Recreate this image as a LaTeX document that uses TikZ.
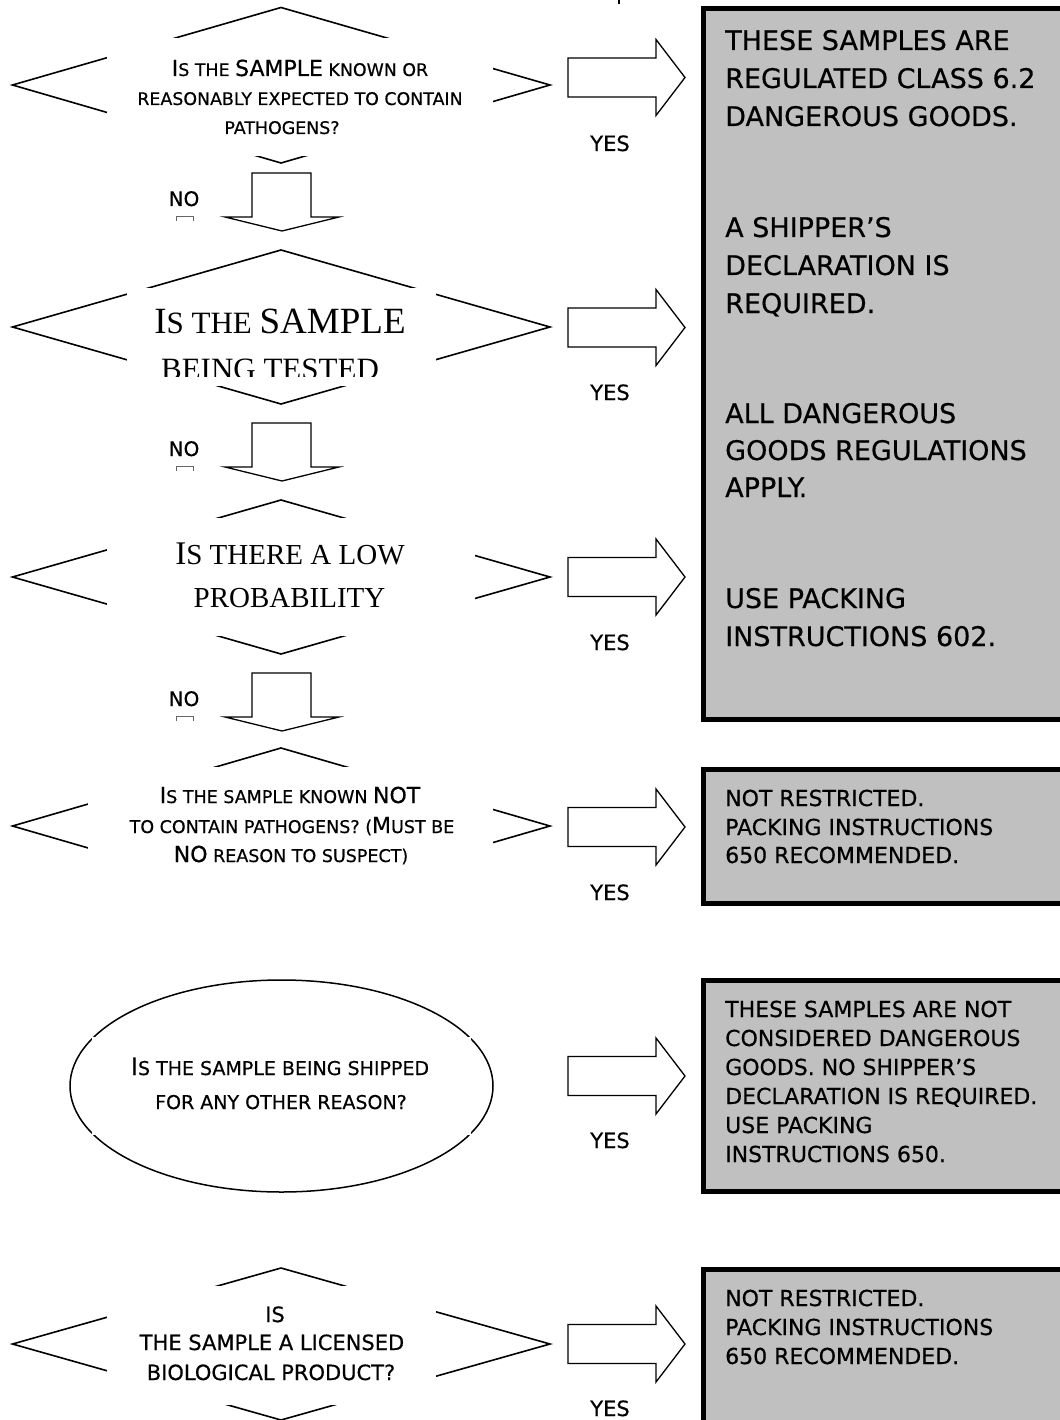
\documentclass[tikz,border=0pt]{standalone}
\usepackage{fontspec}
\newfontfamily\comic[FakeBold=0.5]{DejaVu Sans}
\newfontfamily\serifq{Liberation Serif}
\newcommand\fs[1]{\fontsize{#1}{#1}\selectfont}
\definecolor{boxgray}{RGB}{192,192,192}
\begin{document}
\begin{tikzpicture}[x=1pt,y=-1pt,
  dline/.style={line width=1.6pt, line join=miter},
  cover/.style={fill=white, draw=none},
  blockarrow/.style={draw, line width=1.3pt, fill=white, line join=miter},
  resultbox/.style={draw, fill=boxgray, line width=5pt},
  txt/.style={inner sep=0pt, anchor=base, font=\comic},
  stxt/.style={inner sep=0pt, anchor=base, font=\serifq},
  boxtxt/.style={inner sep=0pt, anchor=base west, font=\comic},
  yeslbl/.style={inner sep=0pt, anchor=base, font=\comic\fs{21}},
  nolbl/.style={inner sep=0pt, anchor=base, font=\comic\fs{20}},
  tinymark/.style={draw=black!60, line width=0.8pt}]
\useasboundingbox (0,0) rectangle (1059,1420);

% stray tick
\draw[line width=1.5pt] (619,0) -- (619,4);

% ---------- result boxes ----------
\draw[resultbox] (703.5,8.5) rectangle (1080,719.5);
\draw[resultbox] (703.5,769.5) rectangle (1080,903.5);
\draw[resultbox] (703.5,980.5) rectangle (1080,1191.5);
\draw[resultbox] (703.5,1269.5) rectangle (1080,1440);

\foreach \y/\t [count=\i] in {50/THESE SAMPLES ARE, 88/REGULATED CLASS 6.2, 126/DANGEROUS GOODS.,
  237/A SHIPPER’S, 275/DECLARATION IS, 313/REQUIRED.,
  423/ALL DANGEROUS, 460/GOODS REGULATIONS, 497/APPLY.,
  608/USE PACKING, 646/INSTRUCTIONS 602.}
  \node[boxtxt, font=\comic\fs{27}] (ra\i) at (725,\y) {\t};

\foreach \y/\t [count=\i] in {806/NOT RESTRICTED., 835/PACKING INSTRUCTIONS, 863/650 RECOMMENDED.}
  \node[boxtxt, font=\comic\fs{22}] (rb\i) at (725,\y) {\t};

\foreach \y/\t [count=\i] in {1017/THESE SAMPLES ARE NOT, 1046/CONSIDERED DANGEROUS,
  1075/GOODS. NO SHIPPER’S, 1104/DECLARATION IS REQUIRED., 1133/USE PACKING, 1162/INSTRUCTIONS 650.}
  \node[boxtxt, font=\comic\fs{22}] (rc\i) at (725,\y) {\t};

\foreach \y/\t [count=\i] in {1306/NOT RESTRICTED., 1335/PACKING INSTRUCTIONS, 1364/650 RECOMMENDED.}
  \node[boxtxt, font=\comic\fs{22}] (rd\i) at (725,\y) {\t};

% ---------- right block arrows with YES ----------
\foreach \c/\yb [count=\i] in {77.5/151, 327.5/400, 577/650, 827/900, 1076/1148, 1344/1416} {
  \draw[blockarrow] (568,{\c-19.5}) -- (656,{\c-19.5}) -- (656,{\c-38}) -- (685,\c)
     -- (656,{\c+38}) -- (656,{\c+19.5}) -- (568,{\c+19.5}) -- cycle;
  \node[yeslbl] (yes\i) at (610,\yb) {YES};
}

% ---------- down block arrows with NO ----------
\foreach \t [count=\i] in {173,423,673} {
  \draw[blockarrow] (252,\t) -- (311,\t) -- (311,{\t+44}) -- (339,{\t+44}) -- (282,{\t+58})
     -- (225,{\t+44}) -- (252,{\t+44}) -- cycle;
  \node[nolbl] (no\i) at (184,{\t+33}) {NO};
  \draw[tinymark] (176,{\t+48}) -- (176,{\t+43}) -- (193,{\t+43}) -- (193,{\t+48});
}

% ---------- decision 1 ----------
\draw[dline] (12.5,85) -- (281,7.5) -- (550,85) -- (281,163) -- cycle;
\fill[cover] (107,38) rectangle (493,156);
\node[txt] (q1a) at (300,76) {{\fs{22}I}{\fs{17.4}S THE }{\fs{22}SAMPLE}{\fs{17.4} KNOWN OR}};
\node[txt] (q1b) at (300,105) {\fs{17.4}REASONABLY EXPECTED TO CONTAIN};
\node[txt] (q1c) at (282,134) {\fs{17.4}PATHOGENS?};

% ---------- decision 2 ----------
\draw[dline] (12.5,327) -- (281,250) -- (550,327) -- (281,404) -- cycle;
\fill[cover] (127,288) rectangle (436,386);
\begin{scope}
  \clip (127,288) rectangle (436,376);
  \node[stxt] (q2a) at (280,334) {{\fs{37}I}{\fs{31}S THE }{\fs{37}SAMPLE}};
  \node[stxt] (q2b) at (270,379) {\fs{31}BEING TESTED};
\end{scope}

% ---------- decision 3 ----------
\draw[dline] (12.5,577) -- (281,500) -- (550,577) -- (281,654) -- cycle;
\fill[cover] (107,518) rectangle (475,636);
\node[stxt] (q3a) at (290,564) {{\fs{33}I}{\fs{29}S THERE A LOW}};
\node[stxt] (q3b) at (289.5,607) {\fs{29}PROBABILITY};

% ---------- decision 4 ----------
\draw[dline] (12.5,826) -- (281,748) -- (550,826) -- (281,904) -- cycle;
\fill[cover] (88,767) rectangle (493,905);
\node[txt] (q4a) at (290,803) {{\fs{22}I}{\fs{17.5}S THE SAMPLE KNOWN }{\fs{22}NOT}};
\node[txt] (q4b) at (292,833) {{\fs{17.5}TO CONTAIN PATHOGENS? (}{\fs{22}M}{\fs{17.5}UST BE}};
\node[txt] (q4c) at (291,862) {{\fs{22}NO}{\fs{17.5} REASON TO SUSPECT)}};

% ---------- decision 5 (ellipse) ----------
\draw[line width=1.5pt] (281.5,1086) ellipse [x radius=211.5, y radius=106];
\fill[cover] (92,1037) rectangle (471,1135);
\node[txt] (q5a) at (280,1075) {{\fs{24}I}{\fs{19}S THE SAMPLE BEING SHIPPED}};
\node[txt] (q5b) at (281,1109) {\fs{19}FOR ANY OTHER REASON?};

% ---------- decision 6 ----------
\draw[dline] (12.5,1344) -- (281,1268) -- (550,1344) -- (281,1420) -- cycle;
\fill[cover] (107,1286) rectangle (436,1405);
\node[txt] (q6a) at (275,1322) {\fs{21}IS};
\node[txt] (q6b) at (272,1350) {\fs{21}THE SAMPLE A LICENSED};
\node[txt] (q6c) at (271,1380) {\fs{21}BIOLOGICAL PRODUCT?};
\end{tikzpicture}
\end{document}
